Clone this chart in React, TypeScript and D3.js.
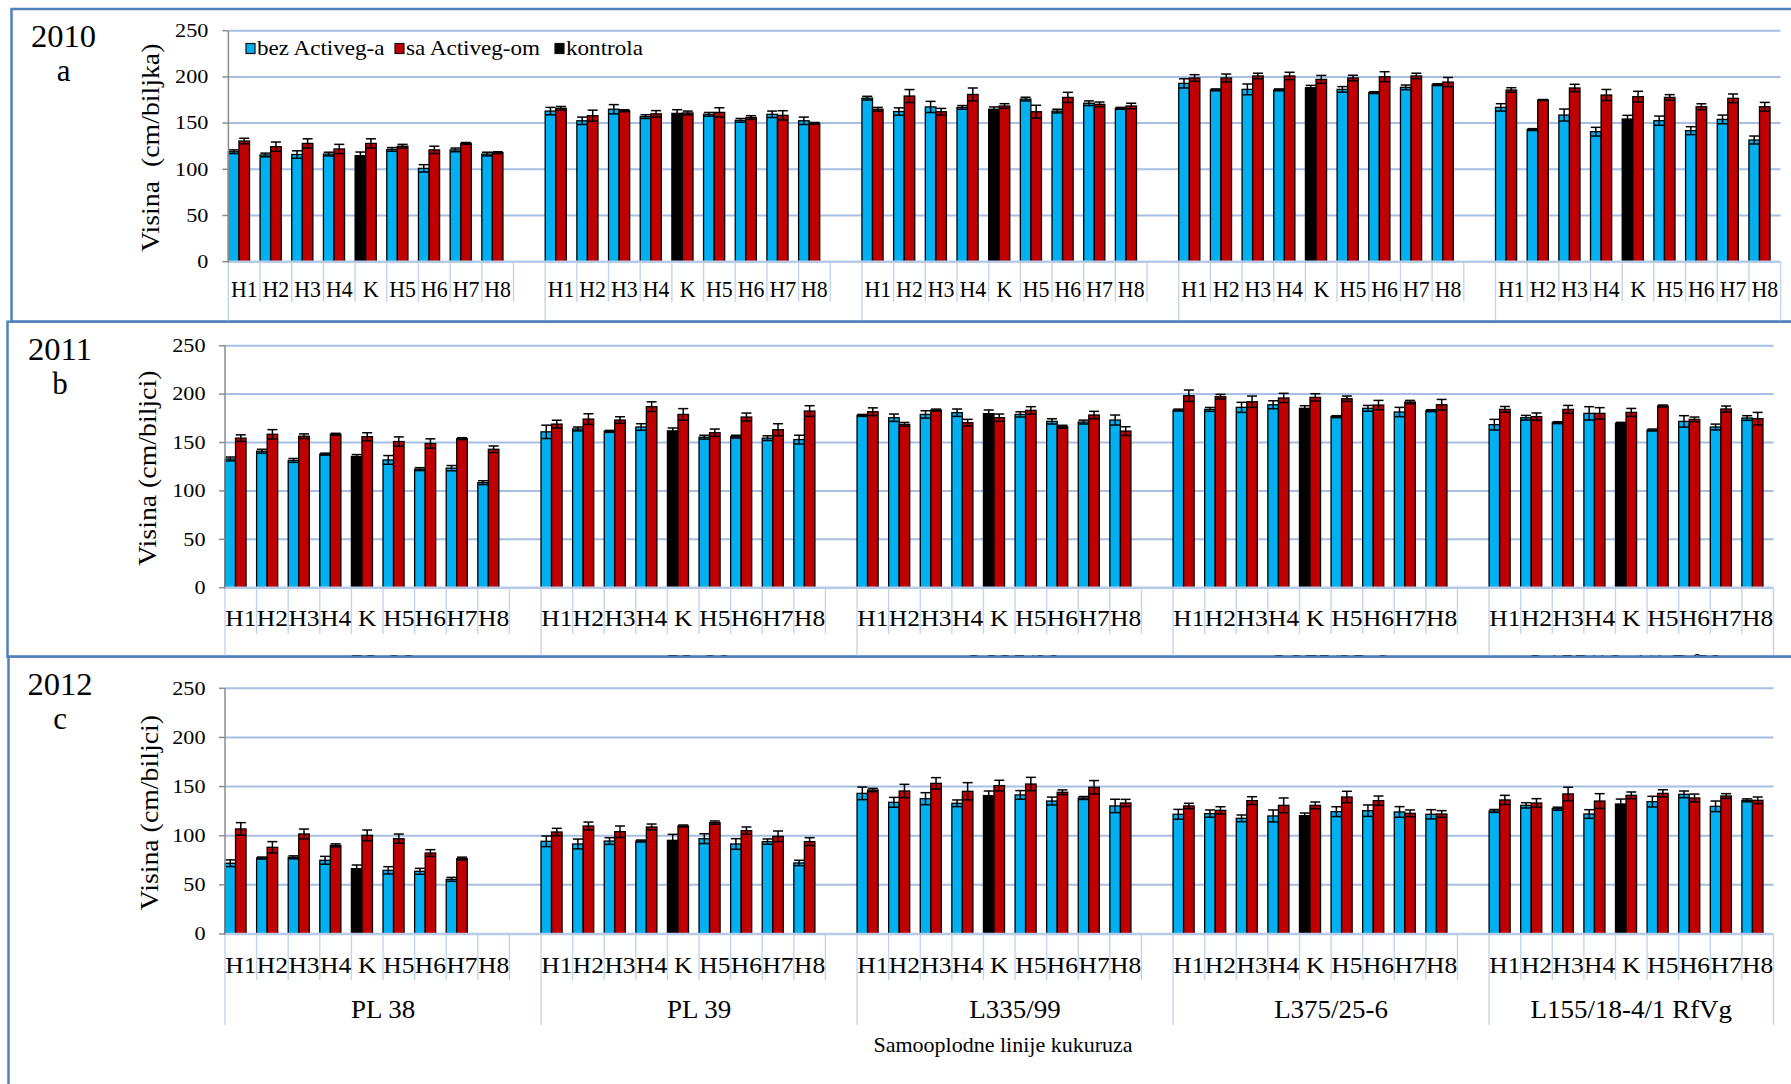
import React from "react";
import * as d3 from "d3";

// Inbred maize lines (outer category level) and treatments (inner level)
const lines = ["PL 38", "PL 39", "L335/99", "L375/25-6", "L155/18-4/1 RfVg"];
const hybrids = ["H1", "H2", "H3", "H4", "K", "H5", "H6", "H7", "H8"];
const yTicks = [0, 50, 100, 150, 200, 250];
const legendItems = ["bez Activeg-a", "sa Activeg-om", "kontrola"];
const seriesColors = ["#00B0F0", "#C00000", "#000000"];
const xAxisTitle = "Samooplodne linije kukuruza";

// Plant height (cm), "bez Activeg-a" series; the K position holds the control (kontrola)
const bez2010 = [
  [119, 115.5, 116, 116.5, 114.7, 121.5, 101, 121, 116.5],
  [163, 152.5, 165, 157, 160.5, 159.5, 153, 159.5, 152.5],
  [177, 162.5, 167.5, 167, 165, 176, 163, 171.5, 166],
  [193, 186, 186.5, 186, 188.3, 186.5, 183, 188.7, 191.6],
  [167, 143, 158.7, 140.7, 154.4, 152.6, 141.8, 154, 131.7],
];
const sa2010 = [
  [130.6, 124.5, 128, 122, 128, 125, 121, 128, 118],
  [166, 158, 163.4, 160, 161, 161.6, 156, 158.4, 149.7],
  [165, 179.3, 162.3, 181, 168.5, 162.3, 177.8, 170.3, 168.5],
  [198.8, 198.8, 201, 201, 197.3, 198.8, 200.2, 201, 194.4],
  [185.8, 175, 188, 180.4, 178.6, 177.8, 167.7, 176.8, 167.7],
];
const bezErr2010 = [
  [2, 2, 4, 2, 4, 2, 4, 2, 2],
  [4, 4, 5, 2, 4, 2, 2, 3.5, 4],
  [2, 4, 6, 2, 2.5, 2, 2, 2.5, 1],
  [5, 1, 5.8, 1, 2.5, 3, 1, 2.5, 1],
  [4, 1, 6.5, 4.7, 4, 5, 4.3, 4.7, 4.3],
];
const saErr2010 = [
  [3, 5, 5, 5, 5, 2, 4, 1, 1],
  [2, 6, 1, 3.5, 2, 5, 2, 5, 1],
  [2, 7, 3.6, 7, 2.5, 7, 5.5, 2.5, 3],
  [3.6, 4.3, 3, 4, 4.3, 3, 5.4, 3, 5],
  [2.5, 0.5, 4, 6, 5.8, 3, 3.2, 4.7, 4.7],
];

const bez2011 = [
  [133, 141, 131.5, 138, 135.5, 132, 122.5, 123.5, 108.5],
  [161, 164, 161.5, 166, 162, 155.5, 156, 154.5, 153],
  [178, 175.6, 179, 180.8, 179.8, 179, 171.8, 171.1, 173.2],
  [183.5, 184.2, 186.3, 189, 185.3, 176.7, 185.3, 181.5, 182.9],
  [168.4, 175.6, 170.5, 180.1, 169.8, 162.9, 171.8, 166, 175.3],
];
const sa2011 = [
  [154.5, 158.5, 156.5, 158.5, 156, 151, 149, 154, 143],
  [169, 174.2, 173.2, 187, 179, 160.1, 176.3, 163.2, 182.5],
  [181.8, 168.7, 183.5, 170.5, 175.6, 183.2, 166.3, 178.4, 161.8],
  [198.3, 197.3, 192.1, 196, 196.6, 195.2, 188.7, 191.8, 189],
  [184.2, 176.7, 184.2, 180.1, 181.1, 187.7, 173.9, 184.6, 174.6],
];
const bezErr2011 = [
  [2, 2, 2, 1, 2, 4.5, 1.5, 2.7, 2],
  [6.9, 2, 1, 3.4, 3, 2, 1.5, 2.4, 4.5],
  [1, 3.8, 3.8, 3.8, 3.8, 2.7, 2.7, 2, 5.2],
  [1, 2, 5.2, 4.1, 2.7, 1, 3, 4.8, 1],
  [5.5, 2.4, 1, 6.9, 1, 1, 5.9, 3, 2.4],
];
const saErr2011 = [
  [3.4, 4.8, 2.4, 1, 4.1, 4.8, 4.8, 1, 3.4],
  [4, 5.5, 3.4, 5, 6, 3.8, 4.1, 6.2, 5.5],
  [4, 2, 1, 3.4, 3.8, 3.8, 1.5, 3.8, 4.5],
  [5.9, 2.4, 5.9, 4.8, 3.8, 2.8, 4.8, 1.7, 5.5],
  [3, 3.8, 4.1, 5.9, 4.1, 1, 2.4, 3.1, 6.5],
];

const bez2012 = [
  [72, 77.3, 78, 75, 66.5, 64.8, 63.8, 55.6, null],
  [94.3, 91.6, 94.6, 94.6, 95.3, 97, 91.6, 94, 72.3],
  [143.1, 134, 137.7, 133, 140.8, 141.5, 135.3, 138.4, 130.3],
  [121.8, 122.5, 117.7, 120.1, 120.4, 124.5, 125.5, 124.2, 121.8],
  [125.2, 130.9, 127.5, 122.1, 132.3, 134.7, 142.1, 129.9, 136],
];
const sa2012 = [
  [106.9, 88.2, 101.8, 90.2, 100.4, 97, 82.4, 76.7, null],
  [103.8, 109.9, 104.1, 108.9, 109.9, 113.3, 105.2, 99.4, 94],
  [146.5, 145.5, 153.3, 145.2, 151, 152.6, 144.2, 149.3, 133.3],
  [130.3, 125.8, 135.7, 130.9, 130.9, 139.4, 135.7, 122.8, 122.1],
  [136.4, 133.3, 142.5, 135.3, 141.1, 143.1, 138.4, 140.4, 136],
];
const bezErr2012 = [
  [3.4, 1, 1.5, 4, 3.7, 3.7, 3, 2, null],
  [5.4, 5, 3.4, 1, 6.1, 5, 5.4, 2.7, 2.7],
  [6.4, 5, 6.1, 3.4, 4.7, 4.4, 4, 1.5, 6.8],
  [5, 3.7, 3.4, 6.1, 2.7, 5, 5.8, 5.4, 4.7],
  [1.5, 2.7, 1.5, 4.4, 5, 5.4, 3.4, 5.4, 1.5],
];
const saErr2012 = [
  [6.4, 5.8, 5, 1.5, 5.4, 4.7, 3.4, 1.5, null],
  [3.7, 4, 5.8, 3, 1, 1.7, 3.7, 5.4, 4],
  [1.7, 6.8, 5.8, 8.8, 5.4, 6.8, 2.4, 6.8, 3.7],
  [2.7, 3.7, 4, 7.5, 3.4, 5.8, 4.7, 3.4, 3.4],
  [4.7, 4.4, 6.8, 7.5, 3.4, 3.7, 4, 2.4, 3.4],
];

const FONT = "'Liberation Serif', 'Times New Roman', serif";
const BORDER = "#4F81BD";
const GRID = "#A6BFE3";
const CAT_LINE = "#C3D5EE";

type Vals = (number | null)[][];

interface PanelCfg {
  year: string;
  letter: string;
  yTitle: string;
  bez: Vals;
  sa: Vals;
  bezErr: Vals;
  saErr: Vals;
  boxTop: number;
  boxLeft: number;
  boxBottom: number;
  plotTop: number;
  plotBottom: number;
  left: number;
  right: number;
  labelX: number;
  yTitleX: number;
  tickGap: number;
  hSx: number;
  innerTick: number;
  legend: boolean;
}

const panels: PanelCfg[] = [
  {
    year: "2010", letter: "a", yTitle: "Visina  (cm/biljka)",
    bez: bez2010, sa: sa2010, bezErr: bezErr2010, saErr: saErr2010,
    boxTop: 9, boxLeft: 11.5, boxBottom: 321.7,
    plotTop: 30.7, plotBottom: 261.7, left: 228.4, right: 1780.6,
    labelX: 63.5, yTitleX: 159, tickGap: 20, hSx: 0.95, innerTick: 40, legend: true,
  },
  {
    year: "2011", letter: "b", yTitle: "Visina (cm/biljci)",
    bez: bez2011, sa: sa2011, bezErr: bezErr2011, saErr: saErr2011,
    boxTop: 321.7, boxLeft: 7.5, boxBottom: 656.7,
    plotTop: 345.7, plotBottom: 587.7, left: 225, right: 1773.5,
    labelX: 60, yTitleX: 156, tickGap: 19.5, hSx: 1.11, innerTick: 46, legend: false,
  },
  {
    year: "2012", letter: "c", yTitle: "Visina (cm/biljci)",
    bez: bez2012, sa: sa2012, bezErr: bezErr2012, saErr: saErr2012,
    boxTop: 656.7, boxLeft: 8.5, boxBottom: 1200,
    plotTop: 688.3, plotBottom: 934, left: 225, right: 1773.5,
    labelX: 60, yTitleX: 157.5, tickGap: 19.5, hSx: 1.11, innerTick: 46, legend: false,
  },
];

function T(props: {
  x: number; y: number; size: number; sx?: number; anchor?: string; rot?: number;
  children: React.ReactNode;
}) {
  const { x, y, size, sx = 1, anchor = "start", rot = 0, children } = props;
  return (
    <text
      transform={`translate(${x},${y}) rotate(${rot}) scale(${sx},1)`}
      fontSize={size}
      fontFamily={FONT}
      textAnchor={anchor}
      fill="#000"
      style={{ whiteSpace: "pre" }}
    >
      {children}
    </text>
  );
}

function Panel({ cfg }: { cfg: PanelCfg }) {
  const slots: string[] = [];
  lines.forEach((_, g) => {
    for (let i = 0; i < 10; i++) {
      if (g === lines.length - 1 && i === 9) break;
      slots.push(`${g}-${i}`);
    }
  });
  const x = d3.scaleBand<string>().domain(slots).range([cfg.left, cfg.right]).padding(0);
  const y = d3.scaleLinear().domain([0, 250]).range([cfg.plotBottom, cfg.plotTop]);
  const bw = x.bandwidth() / 3;
  const capW = bw * 0.95;
  const bottom = cfg.plotBottom;
  const slotEdges = [...slots.map((s) => x(s) as number), cfg.right];
  const groupStart = (g: number) => x(`${g}-0`) as number;
  const groupEnd = (g: number) => (g < lines.length - 1 ? groupStart(g + 1) : cfg.right);
  const hBase = bottom + (cfg.innerTick === 40 ? 35 : 38.6);

  const errBar = (cx: number, v: number, e: number, key: string) => (
    <g key={key} stroke="#000" strokeWidth={1.5}>
      <line x1={cx} x2={cx} y1={y(v + e)} y2={y(v - e)} />
      <line x1={cx - capW / 2} x2={cx + capW / 2} y1={y(v + e)} y2={y(v + e)} />
      <line x1={cx - capW / 2} x2={cx + capW / 2} y1={y(v - e)} y2={y(v - e)} />
    </g>
  );

  return (
    <g>
      <rect
        x={cfg.boxLeft}
        y={cfg.boxTop}
        width={1900}
        height={cfg.boxBottom - cfg.boxTop}
        fill="#fff"
        stroke={BORDER}
        strokeWidth={2.5}
      />
      {/* gridlines */}
      {yTicks.filter((t) => t > 0).map((t) => (
        <line key={t} x1={cfg.left} x2={cfg.right} y1={y(t)} y2={y(t)} stroke={GRID} strokeWidth={2} />
      ))}
      {/* category separators */}
      {slotEdges.map((ex, k) => {
        const isGroup = k % 10 === 0 || k === slotEdges.length - 1;
        return (
          <line
            key={k}
            x1={ex}
            x2={ex}
            y1={bottom}
            y2={bottom + (isGroup ? cfg.innerTick + 45 : cfg.innerTick)}
            stroke={CAT_LINE}
            strokeWidth={1.4}
          />
        );
      })}
      {/* bars */}
      {lines.map((_, g) =>
        hybrids.map((h, i) => {
          const sx0 = x(`${g}-${i}`) as number;
          const vb = cfg.bez[g][i];
          const vs = cfg.sa[g][i];
          const eb = cfg.bezErr[g][i];
          const es = cfg.saErr[g][i];
          return (
            <g key={`${g}-${i}`}>
              {vb != null && (
                <rect
                  x={sx0}
                  y={y(vb)}
                  width={bw}
                  height={y(0) - y(vb)}
                  fill={h === "K" ? seriesColors[2] : seriesColors[0]}
                  stroke="#000"
                  strokeWidth={1.3}
                />
              )}
              {vs != null && (
                <rect
                  x={sx0 + bw}
                  y={y(vs)}
                  width={bw}
                  height={y(0) - y(vs)}
                  fill={seriesColors[1]}
                  stroke="#000"
                  strokeWidth={1.3}
                />
              )}
              {vb != null && eb != null && errBar(sx0 + bw / 2, vb, eb, "eb")}
              {vs != null && es != null && errBar(sx0 + bw * 1.5, vs, es, "es")}
            </g>
          );
        })
      )}
      {/* x axis line */}
      <line x1={cfg.left} x2={cfg.right} y1={bottom} y2={bottom} stroke="#B7CBE8" strokeWidth={2.5} />
      {/* y axis */}
      <line x1={cfg.left} x2={cfg.left} y1={cfg.plotTop} y2={bottom} stroke="#8C8C8C" strokeWidth={1.5} />
      {yTicks.map((t) => (
        <g key={t}>
          <line x1={cfg.left - 6} x2={cfg.left} y1={y(t)} y2={y(t)} stroke="#8C8C8C" strokeWidth={1.5} />
          <T x={cfg.left - cfg.tickGap} y={y(t) + 6.2} size={18.5} sx={1.2} anchor="end">
            {t}
          </T>
        </g>
      ))}
      {/* inner category labels */}
      {lines.map((_, g) =>
        hybrids.map((h, i) => (
          <T
            key={`${g}-${i}`}
            x={(x(`${g}-${i}`) as number) + x.bandwidth() / 2}
            y={hBase}
            size={23}
            sx={cfg.hSx}
            anchor="middle"
          >
            {h}
          </T>
        ))
      )}
      {/* outer category labels */}
      {lines.map((l, g) => (
        <T key={l} x={(groupStart(g) + groupEnd(g)) / 2} y={hBase + 45.7} size={25} sx={1.08} anchor="middle">
          {l}
        </T>
      ))}
      <T x={1003} y={hBase + 79} size={22} anchor="middle">
        {xAxisTitle}
      </T>
      {/* y axis title */}
      <T x={cfg.yTitleX} y={(cfg.plotTop + bottom) / 2 + 1.5} size={26} sx={1.07} rot={-90} anchor="middle">
        {cfg.yTitle}
      </T>
      {/* year and panel letter */}
      <T x={cfg.labelX} y={cfg.boxTop + 38} size={31} sx={1.05} anchor="middle">
        {cfg.year}
      </T>
      <T x={cfg.labelX} y={cfg.boxTop + 72} size={31} anchor="middle">
        {cfg.letter}
      </T>
      {cfg.legend && <Legend />}
    </g>
  );
}

function Legend() {
  const keyX = [246, 395, 555];
  return (
    <g>
      {legendItems.map((name, k) => (
        <g key={name}>
          <rect x={keyX[k]} y={43.5} width={9} height={10} fill={seriesColors[k]} stroke="#111" strokeWidth={1.2} />
          <T x={keyX[k] + 11} y={54.7} size={21} sx={1.1}>
            {name}
          </T>
        </g>
      ))}
    </g>
  );
}

export default function App() {
  return (
    <svg
      width={1791}
      height={1084}
      viewBox="0 0 1791 1084"
      style={{ position: "absolute", left: 0, top: 0, background: "#fff" }}
    >
      <rect x={0} y={0} width={1791} height={1084} fill="#fff" />
      {panels.map((p) => (
        <Panel key={p.year} cfg={p} />
      ))}
    </svg>
  );
}
